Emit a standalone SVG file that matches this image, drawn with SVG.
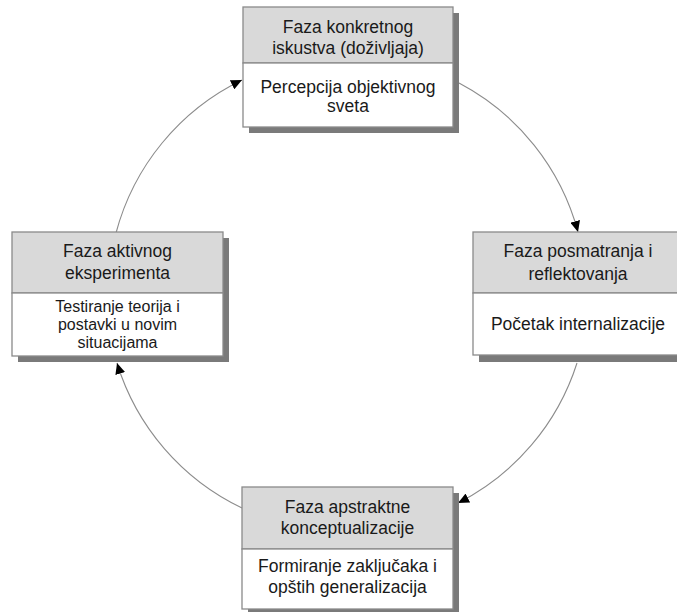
<svg xmlns="http://www.w3.org/2000/svg" width="677" height="612" viewBox="0 0 677 612">
<style>
.shadow{fill:#7a7a7a}
.head{fill:#d9d9d9;stroke:#8a8a8a;stroke-width:1.3}
.body{fill:#ffffff;stroke:#8a8a8a;stroke-width:1.3}
text{font-family:"Liberation Sans",Arial,sans-serif;font-size:17.5px;fill:#1a1a1a;text-anchor:middle}
text.small{font-size:16px}
.conn{fill:none;stroke:#8c8c8c;stroke-width:1.1}
</style>
<defs>
<marker id="arr" markerUnits="userSpaceOnUse" markerWidth="12" markerHeight="10" refX="11" refY="5" orient="auto">
<path d="M0,0 L11,5 L0,10 Z" fill="#000"/>
</marker>
</defs>
<rect width="677" height="612" fill="#fff"/>
<g id="connectors">
<path class="conn" d="M459,83 A238,238 0 0 1 578,232" marker-end="url(#arr)"/>
<path class="conn" d="M577,363 A238,238 0 0 1 458,503" marker-end="url(#arr)"/>
<path class="conn" d="M242,508 A238,238 0 0 1 117,363" marker-end="url(#arr)"/>
<path class="conn" d="M116,233 A238,238 0 0 1 242,80" marker-end="url(#arr)"/>
</g>
<g id="node-top">
<rect class="shadow" x="249" y="13" width="210" height="120"/>
<rect class="head" x="243" y="7" width="210" height="56"/>
<rect class="body" x="243" y="63" width="210" height="64"/>
<text x="348" y="33">Faza konkretnog</text>
<text x="348" y="54">iskustva (doživljaja)</text>
<text x="348" y="93">Percepcija objektivnog</text>
<text x="348" y="112">sveta</text>
</g>
<g id="node-right">
<rect class="shadow" x="479" y="238" width="210" height="124"/>
<rect class="head" x="473" y="232" width="210" height="61"/>
<rect class="body" x="473" y="293" width="210" height="62"/>
<text x="578" y="257">Faza posmatranja i</text>
<text x="578" y="280">reflektovanja</text>
<text x="578" y="330">Početak internalizacije</text>
</g>
<g id="node-left">
<rect class="shadow" x="18" y="238" width="211" height="124"/>
<rect class="head" x="12" y="232" width="211" height="61"/>
<rect class="body" x="12" y="293" width="211" height="63"/>
<text x="117.5" y="257">Faza aktivnog</text>
<text x="117.5" y="279">eksperimenta</text>
<text class="small" x="117.5" y="312">Testiranje teorija i</text>
<text class="small" x="117.5" y="330">postavki u novim</text>
<text class="small" x="117.5" y="348">situacijama</text>
</g>
<g id="node-bottom">
<rect class="shadow" x="248" y="493" width="211" height="125"/>
<rect class="head" x="242" y="487" width="211" height="62"/>
<rect class="body" x="242" y="549" width="211" height="60"/>
<text x="347.5" y="513">Faza apstraktne</text>
<text x="347.5" y="534">konceptualizacije</text>
<text x="347.5" y="572">Formiranje zaključaka i</text>
<text x="347.5" y="593">opštih generalizacija</text>
</g>
</svg>
